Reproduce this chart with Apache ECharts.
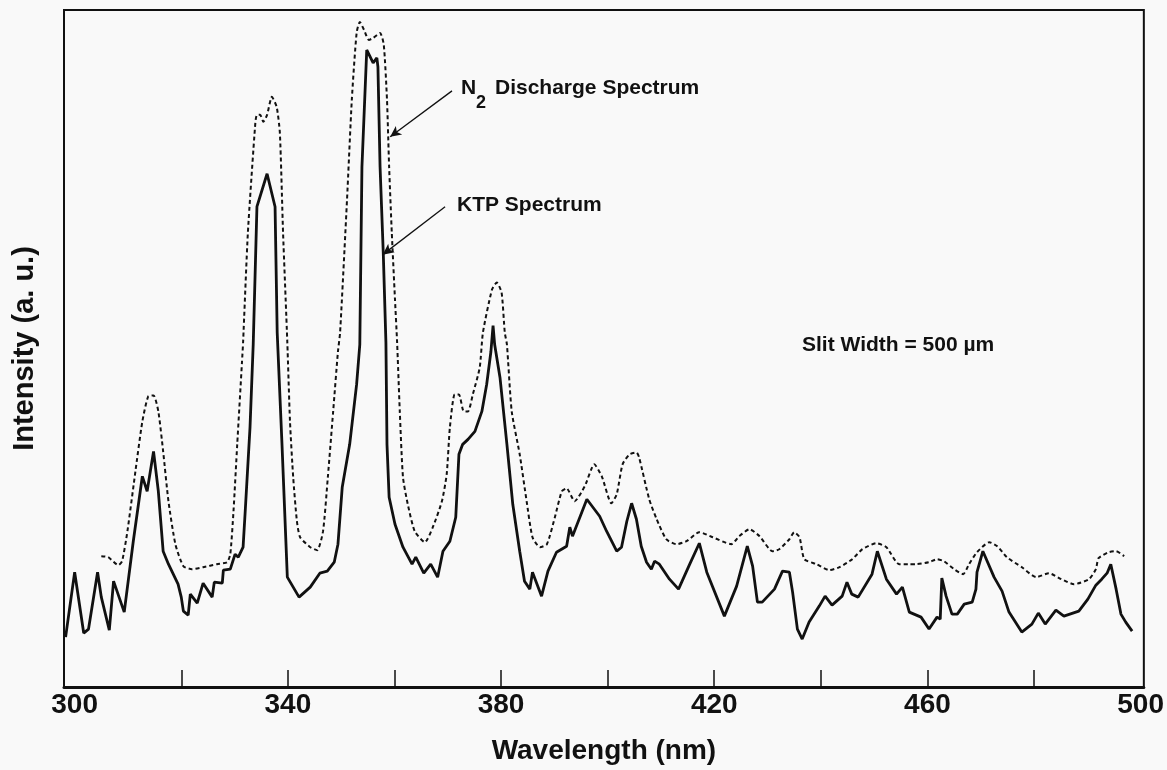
<!DOCTYPE html>
<html>
<head>
<meta charset="utf-8">
<title>N2 discharge and KTP spectra</title>
<script src="https://cdn.jsdelivr.net/npm/echarts@6/dist/echarts.min.js"></script>
<style>
  html, body { margin: 0; padding: 0; background: #f9f9f9; }
  #chart { width: 1167px; height: 770px; }
</style>
</head>
<body>
<div id="chart"></div>
<script>
// KTP spectrum (solid line): wavelength in nm, intensity in a.u.
var ktpNm = [298.3, 300.0, 301.7, 302.6, 304.3, 305.0, 306.5, 307.3, 309.3, 311.0, 312.7, 313.6, 314.8, 315.7, 316.6, 317.6,
  319.4, 320.0, 320.4, 321.3, 321.7, 323.0, 324.1, 325.8, 326.2, 327.7, 327.9, 329.2, 330.1, 330.7, 331.6, 332.0, 332.9,
  333.5, 334.2, 336.1, 337.6, 338.0, 338.9, 339.9, 342.1, 344.2, 346.0, 347.4, 348.7, 349.4, 350.2, 351.6, 352.9, 353.5,
  353.9, 354.8, 355.0, 356.0, 356.7, 356.9, 357.3, 357.9, 358.4, 358.6, 359.0, 360.1, 361.6, 363.3, 364.0, 365.5, 366.8,
  368.1, 369.1, 370.4, 371.5, 372.1, 372.8, 373.8, 375.1, 376.4, 377.3, 378.1, 378.5, 378.8, 379.8, 381.1, 382.2, 383.5,
  384.4, 385.4, 385.9, 387.6, 388.8, 390.4, 392.3, 392.9, 393.4, 396.1, 398.5, 399.8, 401.7, 402.6, 403.6, 404.5, 405.4,
  406.3, 407.3, 408.2, 408.8, 409.7, 411.6, 413.3, 415.4, 417.2, 418.6, 421.9, 424.2, 426.2, 427.2, 428.1, 429.0, 431.3,
  432.8, 434.1, 434.7, 435.6, 436.5, 437.8, 439.7, 440.8, 442.1, 444.0, 444.9, 445.8, 447.0, 449.6, 450.6, 452.3, 454.2,
  455.3, 456.6, 458.8, 460.3, 461.8, 462.4, 462.7, 463.5, 464.6, 465.6, 466.9, 468.4, 469.1, 469.3, 470.4, 472.5, 474.0,
  475.3, 477.7, 479.6, 480.8, 482.1, 484.1, 485.6, 488.4, 490.1, 491.6, 492.7, 493.7, 494.4, 495.4, 496.3, 497.2, 498.4];
var ktpVal = [50, 115, 54, 58, 115, 90, 57, 106, 75, 146, 211, 196, 236, 196, 136, 123,
  103, 90, 76, 72, 93, 84, 104, 90, 105, 104, 117, 118, 133, 130, 140, 176, 260,
  343, 481, 514, 481, 355, 243, 110, 90, 100, 114, 116, 125, 143, 200, 243, 303, 343,
  521, 638, 640, 625, 630, 621, 521, 435, 345, 243, 190, 163, 140, 123, 130, 114, 123,
  110, 136, 146, 170, 233, 243, 248, 256, 276, 303, 336, 362, 343, 310, 243, 183, 136,
  106, 98, 115, 91, 116, 135, 141, 160, 151, 188, 171, 156, 136, 140, 166, 184, 168,
  141, 125, 118, 126, 123, 108, 98, 123, 144, 115, 71, 101, 141, 121, 85, 85, 98,
  116, 115, 95, 58, 48, 65, 81, 91, 82, 91, 105, 93, 90, 113, 136, 108, 93,
  100, 75, 70, 58, 70, 68, 109, 91, 73, 73, 83, 85, 98, 115, 136, 110, 96,
  75, 55, 63, 74, 63, 77, 71, 76, 88, 102, 108, 114, 123, 98, 73, 65, 56];

// N2 discharge spectrum (dashed line)
var n2Nm = [305.0, 306.3, 308.2, 308.9, 309.9, 311.4, 312.7, 313.8, 314.8, 315.7, 316.6, 317.6, 318.9, 320.4, 322.0, 324.1,
  326.7, 328.6, 329.2, 329.8, 330.5, 331.4, 331.6, 332.5, 333.9, 334.2, 334.8, 335.4, 336.1, 337.0, 337.9, 338.5, 339.1,
  339.9, 340.4, 341.0, 341.7, 342.3, 344.2, 345.5, 346.6, 347.5, 348.5, 349.4, 349.8, 351.1, 352.0, 352.9, 353.5, 354.3,
  355.2, 356.0, 357.3, 358.0, 358.6, 359.0, 359.5, 360.1, 360.5, 361.0, 361.6, 362.5, 363.8, 365.7, 367.2, 368.9, 369.8,
  370.4, 371.3, 372.1, 373.0, 373.8, 374.7, 376.0, 376.6, 378.3, 379.2, 380.1, 380.7, 381.1, 382.0, 383.5, 384.8, 385.9,
  387.3, 388.6, 390.1, 391.4, 392.3, 393.8, 395.7, 397.5, 398.9, 400.7, 401.7, 402.8, 404.1, 405.4, 405.9, 407.8, 409.2,
  411.0, 412.9, 414.8, 417.2, 419.7, 423.2, 424.7, 426.6, 428.5, 430.9, 432.2, 434.1, 435.0, 436.0, 436.9, 439.2, 441.6,
  443.5, 445.9, 447.8, 450.4, 452.3, 454.7, 456.6, 457.9, 460.3, 461.8, 463.1, 465.0, 466.7, 467.8, 469.3, 471.6, 473.1,
  474.9, 477.7, 480.4, 482.8, 485.1, 487.5, 490.3, 491.6, 492.1, 494.0, 495.4, 496.9];
var n2Val = [131, 130, 122, 126, 156, 216, 266, 291, 292, 276, 236, 186, 143, 121, 118, 120,
  123, 125, 133, 176, 243, 326, 345, 455, 565, 573, 573, 566, 573, 591, 581, 555, 455,
  345, 266, 210, 166, 150, 140, 137, 156, 210, 276, 336, 355, 488, 588, 655, 666, 658,
  648, 650, 655, 643, 588, 521, 455, 388, 345, 276, 210, 183, 156, 145, 160, 186, 213,
  260, 293, 293, 276, 276, 293, 320, 355, 398, 405, 395, 355, 343, 276, 233, 186, 150,
  140, 143, 170, 196, 199, 186, 201, 223, 211, 184, 193, 223, 233, 235, 230, 188, 168,
  148, 143, 146, 155, 150, 143, 151, 158, 151, 136, 138, 148, 155, 150, 128, 123, 117,
  120, 128, 138, 144, 140, 123, 123, 123, 125, 128, 126, 118, 113, 123, 135, 145, 141,
  130, 120, 110, 114, 108, 103, 108, 118, 129, 135, 136, 131];

var tickLabels = [300, 340, 380, 420, 460, 500];
var tickMarks = [320, 340, 360, 380, 400, 420, 440, 460, 480];

function pairs(xs, ys) {
  var out = [];
  for (var i = 0; i < xs.length; i++) {
    out.push([xs[i], ys[i]]);
  }
  return out;
}

var FONT = '"Liberation Sans", Arial, Helvetica, sans-serif';

var myChart = echarts.init(document.getElementById('chart'), null, { renderer: 'canvas' });

var option = {
  backgroundColor: '#f9f9f9',
  animation: false,
  grid: {
    left: 64, right: 22, top: 10, bottom: 82,
    show: true, borderColor: '#111', borderWidth: 2, backgroundColor: 'transparent'
  },
  xAxis: {
    type: 'value',
    min: 298,
    max: 500.6,
    name: 'Wavelength (nm)',
    nameLocation: 'middle',
    nameGap: 50,
    nameTextStyle: { fontFamily: FONT, fontWeight: 'bold', fontSize: 28, color: '#111' },
    axisLine: { show: true, onZero: false, lineStyle: { color: '#111', width: 3 } },
    axisTick: { show: true, inside: true, length: 17, customValues: tickMarks, lineStyle: { color: '#111', width: 1.5 } },
    axisLabel: { customValues: tickLabels, margin: 4, fontFamily: FONT, fontWeight: 'bold', fontSize: 28, color: '#111' },
    splitLine: { show: false }
  },
  yAxis: {
    type: 'value',
    min: 0,
    max: 678,
    name: 'Intensity (a. u.)',
    nameLocation: 'middle',
    nameGap: 25,
    nameTextStyle: { fontFamily: FONT, fontWeight: 'bold', fontSize: 29, color: '#111' },
    axisLine: { show: false },
    axisTick: { show: false },
    axisLabel: { show: false },
    splitLine: { show: false }
  },
  series: [
    {
      name: 'N2 Discharge Spectrum',
      type: 'line',
      data: pairs(n2Nm, n2Val),
      showSymbol: false,
      silent: true,
      smooth: 0.2,
      lineStyle: { color: '#111', width: 2, type: [4, 3] },
      markLine: {
        silent: true,
        symbolSize: [8, 11],
        label: { show: false },
        lineStyle: { color: '#111', width: 1.3, type: 'solid' },
        data: [[
          { coord: [370.8, 597], symbol: 'none' },
          { coord: [359.2, 551], symbol: 'arrow' }
        ]]
      }
    },
    {
      name: 'KTP Spectrum',
      type: 'line',
      data: pairs(ktpNm, ktpVal),
      showSymbol: false,
      silent: true,
      lineStyle: { color: '#111', width: 2.8 },
      markLine: {
        silent: true,
        symbolSize: [8, 11],
        label: { show: false },
        lineStyle: { color: '#111', width: 1.3, type: 'solid' },
        data: [[
          { coord: [369.5, 481], symbol: 'none' },
          { coord: [357.8, 433], symbol: 'arrow' }
        ]]
      }
    }
  ],
  graphic: [
    { type: 'text', left: 461, top: 78, style: { text: 'N', font: 'bold 21px ' + FONT, fill: '#111' } },
    { type: 'text', left: 476, top: 94, style: { text: '2', font: 'bold 18px ' + FONT, fill: '#111' } },
    { type: 'text', left: 495, top: 78, style: { text: 'Discharge Spectrum', font: 'bold 21px ' + FONT, fill: '#111' } },
    { type: 'text', left: 457, top: 195, style: { text: 'KTP Spectrum', font: 'bold 21px ' + FONT, fill: '#111' } },
    { type: 'text', left: 802, top: 335, style: { text: 'Slit Width = 500 µm', font: 'bold 21px ' + FONT, fill: '#111' } }
  ]
};
myChart.setOption(option);
</script>
</body>
</html>
